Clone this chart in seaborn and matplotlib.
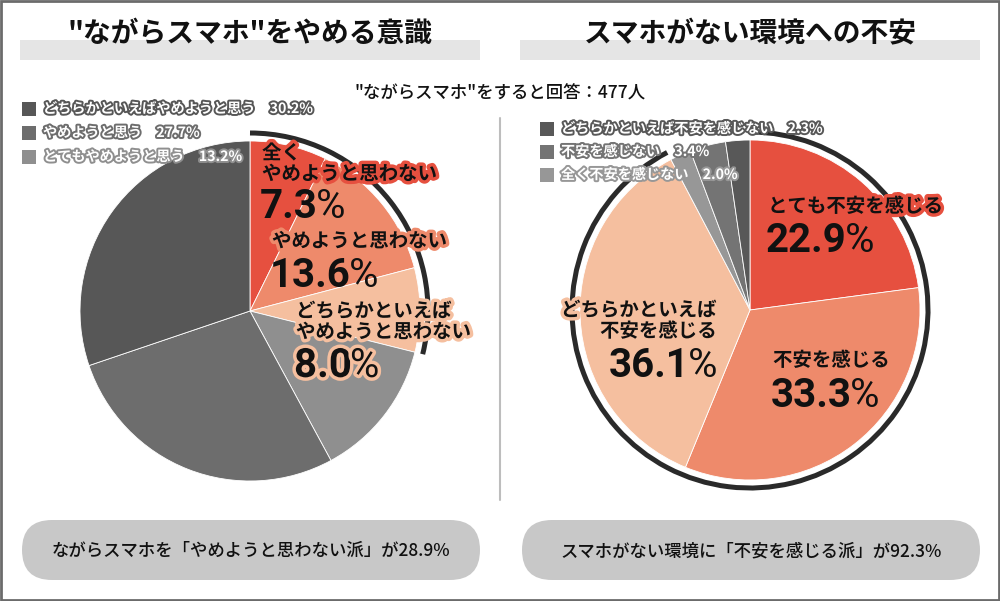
import numpy as np
import pandas as pd
import seaborn as sns
import matplotlib
matplotlib.use("Agg")
import matplotlib.pyplot as plt
from matplotlib import patches, patheffects as pe

sns.set_theme(style="white")
plt.rcParams["font.family"] = ["Noto Sans CJK JP", "DejaVu Sans"]

# ---------------- data ----------------
left_title = '"ながらスマホ"をやめる意識'
right_title = 'スマホがない環境への不安'
subtitle = '"ながらスマホ"をすると回答：477人'

left_labels = ["全く\nやめようと思わない", "やめようと思わない", "どちらかといえば\nやめようと思わない",
               "とてもやめようと思う", "やめようと思う", "どちらかといえばやめようと思う"]
left_values = [7.3, 13.6, 8.0, 13.2, 27.7, 30.2]

right_labels = ["とても不安を感じる", "不安を感じる", "どちらかといえば\n不安を感じる",
                "全く不安を感じない", "不安を感じない", "どちらかといえば不安を感じない"]
right_values = [22.9, 33.3, 36.1, 2.0, 3.4, 2.3]

left_summary = "ながらスマホを「やめようと思わない派」が28.9%"
right_summary = "スマホがない環境に「不安を感じる派」が92.3%"

warm = ["#e6503f", "#ee8a6b", "#f5bf9f"]
left_grays = ["#8f8f8f", "#6d6d6d", "#575757"]
right_grays = ["#979797", "#747474", "#585858"]

H = 601
def Y(y):
    return H - y

fig = plt.figure(figsize=(10, 6.01), dpi=100)
ax = fig.add_axes([0, 0, 1, 1])

# ---------------- pies ----------------
LC = (250, Y(311))
RC = (750, Y(310))
R = 170
wp = dict(edgecolor="white", linewidth=0.6)
ax.pie(left_values, colors=warm + left_grays, startangle=90, counterclock=False,
       center=LC, radius=R, wedgeprops=wp)
ax.pie(right_values, colors=warm + right_grays, startangle=90, counterclock=False,
       center=RC, radius=R, wedgeprops=wp)

left_share = sum(left_values[:3])
right_share = sum(right_values[:3])
for c, share in ((LC, left_share), (RC, right_share)):
    ax.add_patch(patches.Arc(c, 2 * 178, 2 * 178, theta1=90 - 3.6 * share, theta2=90,
                             lw=3.6, color="#2a2a2a", capstyle="butt"))

ax.set_xlim(0, 1000)
ax.set_ylim(0, H)
ax.set_aspect("equal")
ax.axis("off")

# ---------------- frame / titles ----------------
ax.add_patch(patches.Rectangle((1, 1), 998, 599, fill=False, ec="#6b6b6b", lw=2, zorder=10))
for x0, t in ((20, left_title), (520, right_title)):
    ax.add_patch(patches.Rectangle((x0, Y(60)), 460, 20, fc="#e5e5e5", ec="none", zorder=1))
    ax.text(x0 + 230, Y(34), t, ha="center", va="center", fontsize=20, weight="bold",
            color="#111111", zorder=3)

ax.text(500, Y(93), subtitle, ha="center", va="center", fontsize=12.5, weight="medium",
        color="#111111")
ax.plot([500, 500], [Y(118), Y(500)], color="#bdbdbd", lw=1.5)

# ---------------- legends ----------------
def legend(x0, rows_y, labels, values, grays):
    for yy, lab, v, g in zip(rows_y, labels, values, grays):
        ax.add_patch(patches.Rectangle((x0, Y(yy + 7)), 14, 14, fc=g, ec="none", zorder=4))
        ax.text(x0 + 21, Y(yy), f"{lab}\u3000{v:.1f}%", ha="left", va="center",
                fontsize=10.2, weight="bold", color="white", zorder=5,
                path_effects=[pe.Stroke(linewidth=2.8, foreground=g), pe.Normal()])

legend(22, [109, 133, 157], left_labels[5:2:-1], left_values[5:2:-1], left_grays[::-1])
legend(540, [129, 152, 175], right_labels[5:2:-1], right_values[5:2:-1], right_grays[::-1])

# ---------------- slice labels ----------------
def halo(c):
    return [pe.Stroke(linewidth=5, foreground=c), pe.Normal()]

NUM = dict(family=["Roboto", "DejaVu Sans"], fontsize=29, color="#111111", zorder=6)
fig.canvas.draw()
renderer = fig.canvas.get_renderer()
inv = ax.transData.inverted()

def data_x(disp_x):
    return inv.transform((disp_x, 0))[0]

def slice_label(x, ytop, text, ybase, val, color, ha="left", halo_num=False):
    ax.text(x, Y(ytop), text, ha=ha, va="top", fontsize=14, weight="bold", color="#111111",
            linespacing=1.12, multialignment=ha, path_effects=halo(color), zorder=6)
    peff = halo(color) if halo_num else None
    num = f"{val:.1f}"
    if ha == "left":
        t = ax.text(x - 2, Y(ybase), num, ha="left", va="baseline", weight="bold",
                    path_effects=peff, **NUM)
        x1 = data_x(t.get_window_extent(renderer).x1)
        ax.text(x1 - 2, Y(ybase), "%", ha="left", va="baseline", weight="normal",
                path_effects=peff, **NUM)
    else:
        p = ax.text(x, Y(ybase), "%", ha="right", va="baseline", weight="normal",
                    path_effects=peff, **NUM)
        x0 = data_x(p.get_window_extent(renderer).x0)
        ax.text(x0 + 2, Y(ybase), num, ha="right", va="baseline", weight="bold",
                path_effects=peff, **NUM)

slice_label(262, 144, left_labels[0], 218, left_values[0], warm[0])
slice_label(272, 232, left_labels[1], 287, left_values[1], warm[1])
slice_label(296, 302, left_labels[2], 377, left_values[2], warm[2], halo_num=True)

slice_label(768, 197, right_labels[0], 252, right_values[0], warm[0])
slice_label(773, 351, right_labels[1], 407, right_values[1], warm[1])
slice_label(717, 301, right_labels[2], 377, right_values[2], warm[2], ha="right")

# ---------------- summary pills ----------------
for x0, t in ((22, left_summary), (522, right_summary)):
    ax.add_patch(patches.FancyBboxPatch((x0, Y(580)), 458, 60,
                                        boxstyle="round,pad=0,rounding_size=30",
                                        fc="#c8c8c8", ec="none", zorder=2))
    ax.text(x0 + 229, Y(551), t, ha="center", va="center", fontsize=12.5,
            weight="medium", color="#111111", zorder=3)

fig.savefig("out.png", dpi=100)
